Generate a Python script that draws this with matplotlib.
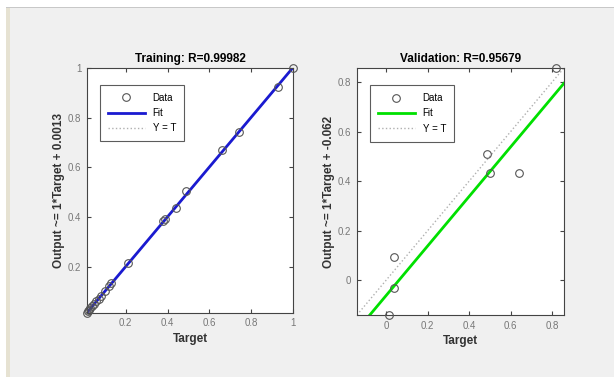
import numpy as np
import matplotlib.pyplot as plt
from matplotlib.patches import Rectangle

plt.rcParams['font.family'] = ['Liberation Sans', 'DejaVu Sans']

# training set (target, output)
train_target = [0.015, 0.02, 0.025, 0.03, 0.04, 0.05, 0.06, 0.07, 0.08, 0.10, 0.12, 0.13,
                0.21, 0.38, 0.39, 0.44, 0.49, 0.66, 0.74, 0.93, 1.00]
train_output = [0.016, 0.022, 0.027, 0.033, 0.043, 0.052, 0.063, 0.072, 0.083, 0.104, 0.122, 0.135,
                0.215, 0.385, 0.392, 0.437, 0.505, 0.668, 0.742, 0.925, 1.00]
train_lim = [0.015, 1.0]
train_ticks = [0.2, 0.4, 0.6, 0.8, 1]
train_slope, train_offset = 1, 0.0013

# validation set
val_target = [0.011, 0.039, 0.039, 0.484, 0.503, 0.641, 0.820]
val_output = [-0.142, 0.094, -0.034, 0.510, 0.434, 0.432, 0.858]
val_lim = [-0.142, 0.858]
val_ticks = [0, 0.2, 0.4, 0.6, 0.8]
val_slope, val_offset = 1, -0.062


def reg_panel(ax, t, y, lim, ticks, slope, offset, fit_color, title, ylabel):
    xs = np.array(lim)
    ax.plot(t, y, 'o', mfc='none', mec='#555555', ms=5.5, mew=0.8, label='Data',
            zorder=3, clip_on=False)
    ax.plot(xs, slope * xs + offset, '-', color=fit_color, lw=2, label='Fit', zorder=2)
    ax.plot(xs, xs, ':', color='#b0b0b0', lw=1, label='Y = T', zorder=1)
    ax.set_xlim(lim)
    ax.set_ylim(lim)
    ax.set_xticks(ticks)
    ax.set_yticks(ticks)
    ax.set_xticklabels([f'{v:g}' for v in ticks])
    ax.set_yticklabels([f'{v:g}' for v in ticks])
    ax.tick_params(direction='in', top=True, right=True, labelsize=7, colors='#444444',
                   labelcolor='#777777', length=3, pad=4)
    for s in ax.spines.values():
        s.set_color('#444444')
        s.set_linewidth(0.8)
    ax.set_title(title, fontsize=8.5, fontweight='bold', pad=4)
    ax.set_xlabel('Target', fontsize=8.5, fontweight='bold', color='#333333', labelpad=3)
    ax.set_ylabel(ylabel, fontsize=8.5, fontweight='bold', color='#333333', labelpad=2)
    leg = ax.legend(loc='upper left', fontsize=7, frameon=True, fancybox=False,
                    handlelength=3.8, borderpad=0.8, labelspacing=0.55,
                    bbox_to_anchor=(0.04, 0.95))
    leg.get_frame().set_edgecolor('#333333')
    leg.get_frame().set_linewidth(0.8)


fig = plt.figure(figsize=(6.14, 3.77), dpi=100, facecolor='#f0f0f0')
# window frame strips
fig.patches.append(Rectangle((0, 1 - 7 / 377), 1, 7 / 377, transform=fig.transFigure,
                             facecolor='white', edgecolor='none'))
fig.patches.append(Rectangle((0, 1 - 8 / 377), 1, 1.2 / 377, transform=fig.transFigure,
                             facecolor='#c8c8c8', edgecolor='none'))
fig.patches.append(Rectangle((0, 0), 6 / 614, 1, transform=fig.transFigure,
                             facecolor='white', edgecolor='none'))
fig.patches.append(Rectangle((6 / 614, 0), 4 / 614, 1 - 8 / 377, transform=fig.transFigure,
                             facecolor='#e6e2d2', edgecolor='none'))

ax1 = fig.add_axes([0.1417, 0.170, 0.3355, 0.650])
ax2 = fig.add_axes([0.5814, 0.1645, 0.337, 0.655])

reg_panel(ax1, train_target, train_output, train_lim, train_ticks, train_slope, train_offset,
          '#1a1ad0', 'Training: R=0.99982', 'Output ~= 1*Target + 0.0013')
reg_panel(ax2, val_target, val_output, val_lim, val_ticks, val_slope, val_offset,
          '#00e000', 'Validation: R=0.95679', 'Output ~= 1*Target + -0.062')

plt.savefig('out.png', dpi=100, facecolor=fig.get_facecolor())
